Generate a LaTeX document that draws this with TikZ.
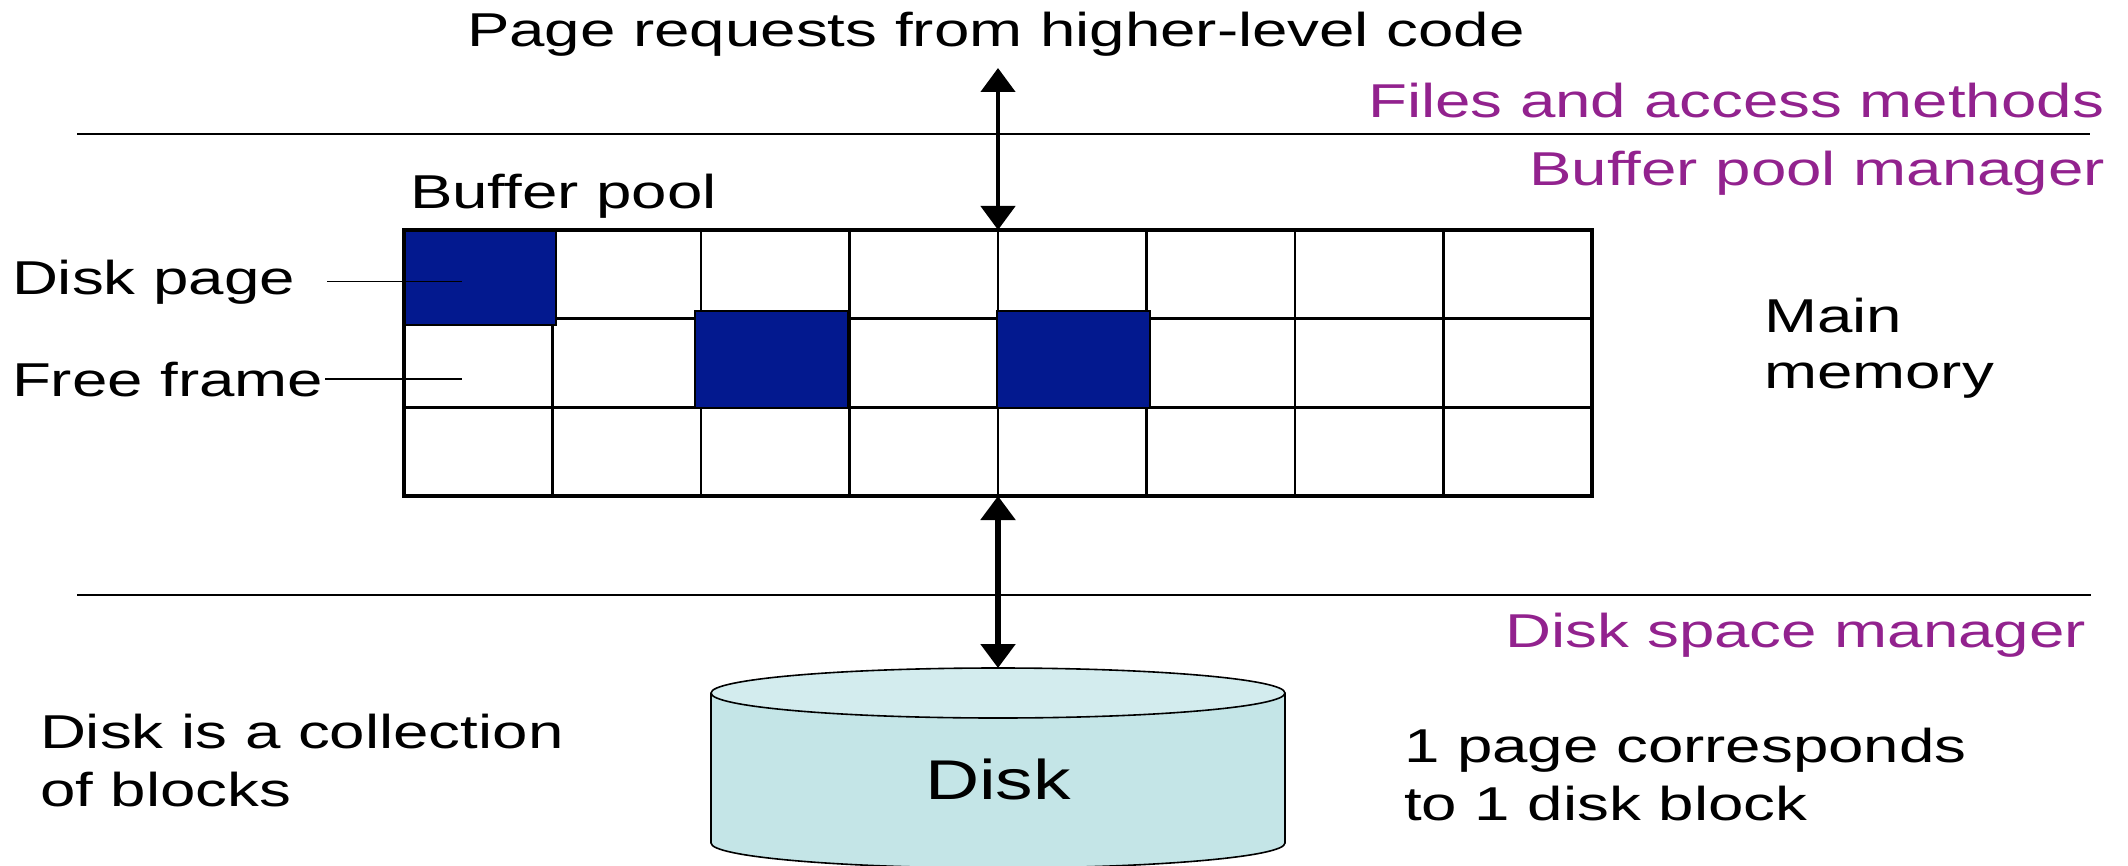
\documentclass[tikz,border=0pt]{standalone}
\usepackage{fontspec}
\setmainfont{Liberation Sans}[FakeStretch=1.34]
\usetikzlibrary{arrows.meta}
\definecolor{pageblue}{RGB}{3,25,143}
\definecolor{layerpurple}{RGB}{146,34,142}
\definecolor{diskside}{RGB}{196,229,231}
\definecolor{disktop}{RGB}{211,236,238}
\begin{document}
\begin{tikzpicture}[x=0.5pt,y=-0.5pt,
  lbl/.style={inner sep=0pt, outer sep=0pt, font=\fontsize{23.75}{28}\selectfont},
  layer/.style={lbl, text=layerpurple},
  sep/.style={line width=1pt},
  cell/.style={line width=1.3pt},
  used/.style={fill=pageblue, draw=black, line width=0.9pt},
  pointer/.style={line width=0.7pt},
  link/.style={line width=2.7pt,
    {Triangle[length=12pt,width=17pt]}-{Triangle[length=12pt,width=17pt]}}
]
\useasboundingbox (0,0) rectangle (2128,866);

% layer boundaries
\draw[sep] (77,134) -- (2090,134);
\draw[sep] (77,595) -- (2091,595);

% layer names
\node[lbl, anchor=base] (req-text) at (996,47) {Page requests from higher-level code};
\node[layer, anchor=base east] (files) at (2104,118) {Files and access methods};
\node[layer, anchor=base east] (bpm) at (2105,185) {Buffer pool manager};
\node[layer, anchor=base east] (dsm) at (2086,647) {Disk space manager};

% buffer pool frames
\node[lbl, anchor=base west] (bp-title) at (410,209) {Buffer pool};
\node[minimum width=594pt, minimum height=133pt, inner sep=0pt, outer sep=0pt] (pool) at (998,363) {};
\foreach \i in {1,...,7}
  \draw[cell] ({404+148.5*\i},230) -- ({404+148.5*\i},496);
\foreach \j in {1,2}
  \draw[cell] (404,{230+88.67*\j}) -- (1592,{230+88.67*\j});
\draw[used] (404,230) rectangle (556,325);
\draw[used] (695,311) rectangle (848,408);
\draw[used] (997,311) rectangle (1150,408);
\draw[line width=2.3pt] (pool.north west) rectangle (pool.south east);

% frame labels
\node[lbl, anchor=base west] (dpage) at (12,294) {Disk page};
\node[lbl, anchor=base west] (ffree) at (12,396) {Free frame};
\draw[pointer] ([xshift=16pt]dpage.east) -- ++(67.5pt,0);
\draw[pointer] ([xshift=1pt]ffree.east) -- ++(68.5pt,0);

\node[lbl, anchor=base west] (mm1) at (1764,332) {Main};
\node[lbl, anchor=base west] (mm2) at (1764,388) {memory};

% disk
\fill[diskside] (711,693) -- (711,843) arc[start angle=180, end angle=360, x radius=143.5pt, y radius=12.5pt]
  -- (1285,693) arc[start angle=0, end angle=180, x radius=143.5pt, y radius=12.5pt] -- cycle;
\draw[line width=0.8pt] (711,693) -- (711,843) arc[start angle=180, end angle=360, x radius=143.5pt, y radius=12.5pt]
  -- (1285,693);
\draw[line width=0.8pt, fill=disktop] (998,693) ellipse [x radius=143.5pt, y radius=12.5pt];
\node[lbl, anchor=base, font=\fontsize{28}{32}\selectfont] (disk) at (998,799) {Disk};
\coordinate (disk-top) at (998,668);

\node[lbl, anchor=base west] (coll1) at (40,748) {Disk is a collection};
\node[lbl, anchor=base west] (coll2) at (40,806) {of blocks};
\node[lbl, anchor=base west] (blk1) at (1404,762) {1 page corresponds};
\node[lbl, anchor=base west] (blk2) at (1404,820) {to 1 disk block};

% request paths
\coordinate (req) at (998,68);
\draw[link, line width=2.3pt] (req) -- (pool.north);
\draw[link] (pool.south) -- (disk-top);
\end{tikzpicture}
\end{document}
